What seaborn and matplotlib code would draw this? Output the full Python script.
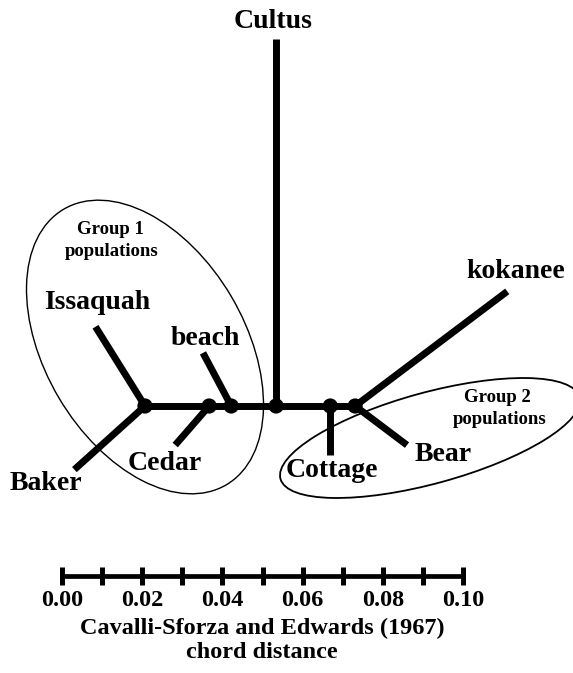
import matplotlib
matplotlib.use('Agg')
import matplotlib.pyplot as plt
from matplotlib.patches import Ellipse
import seaborn as sns
import pandas as pd
import numpy as np

# backbone of the unrooted tree: internal nodes left to right and the chord distance between them
backbone_nodes = ['A', 'B', 'C', 'D', 'E', 'F']
backbone_lengths = [0.0160, 0.0055, 0.0112, 0.0135, 0.0062]

# terminal branches: parent node, branch length, drawing angle (degrees)
leaf_names = ['Issaquah', 'Baker', 'Cedar', 'beach', 'Cultus', 'Cottage', 'kokanee', 'Bear']
leaf_parents = ['A', 'A', 'B', 'C', 'D', 'E', 'F', 'F']
leaf_lengths = [0.0233, 0.0237, 0.0129, 0.0150, 0.0915, 0.0122, 0.0475, 0.0162]
leaf_angles = [122, 222, 229, 118, 90, 270, 37, 323]

# scale bar
scale_ticks = [0.00, 0.01, 0.02, 0.03, 0.04, 0.05, 0.06, 0.07, 0.08, 0.09, 0.10]
scale_labels = ['0.00', '0.02', '0.04', '0.06', '0.08', '0.10']
scale_label_pos = [0.00, 0.02, 0.04, 0.06, 0.08, 0.10]

# layout (pixels of the 573x673 canvas)
PX = 4010.0          # pixels per unit of chord distance
X0, Y0 = 62, 406     # pixel of distance 0 on the scale bar / y of the backbone
W, H = 573, 673


def px(x, y):
    """pixel position -> data coordinates"""
    return (x - X0) / PX, (Y0 - y) / PX


# label offsets from each branch tip, in pixels (right, down)
label_offsets = {'Issaquah': (2, -24), 'Baker': (-28, 14), 'Cedar': (-10, 18),
                 'beach': (2, -14), 'Cultus': (-3, -18), 'Cottage': (2, 16),
                 'kokanee': (8, -20), 'Bear': (36, 9)}

sns.set_theme(style='white')
plt.rcParams['font.family'] = ['Liberation Serif', 'DejaVu Serif']
plt.rcParams['font.weight'] = 'bold'
plt.rcParams['text.color'] = 'black'

# node coordinates
start_x, _ = px(145, Y0)
node_x = np.concatenate([[start_x], start_x + np.cumsum(backbone_lengths)])
nodes = pd.DataFrame({'node': backbone_nodes, 'x': node_x, 'y': 0.0})
node_pos = {n: (x, 0.0) for n, x in zip(backbone_nodes, node_x)}

rows = []
rows.append(('backbone', node_x[0], 0.0))
rows.append(('backbone', node_x[-1], 0.0))
tips = {}
for name, parent, length, ang in zip(leaf_names, leaf_parents, leaf_lengths, leaf_angles):
    x0, y0 = node_pos[parent]
    a = np.deg2rad(ang)
    x1, y1 = x0 + length * np.cos(a), y0 + length * np.sin(a)
    tips[name] = (x1, y1)
    rows.append((name, x0, y0))
    rows.append((name, x1, y1))
edges = pd.DataFrame(rows, columns=['seg', 'x', 'y'])

fig = plt.figure(figsize=(W / 100, H / 100), dpi=100)
ax = fig.add_axes([0, 0, 1, 1])

sns.lineplot(data=edges, x='x', y='y', units='seg', estimator=None, sort=False,
             color='black', lw=5.0, solid_capstyle='butt', legend=False, ax=ax)
sns.scatterplot(data=nodes, x='x', y='y', s=120, color='black', edgecolor='none',
                zorder=3, legend=False, ax=ax)

for name in leaf_names:
    tx, ty = tips[name]
    dx, dy = label_offsets[name]
    ax.text(tx + dx / PX, ty - dy / PX, name, fontsize=20, fontweight='bold',
            ha='center', va='center')

# group ellipses
ax.add_patch(Ellipse(px(145, 347), width=200 / PX, height=320 / PX, angle=30.6,
                     fill=False, ec='black', lw=1.0))
ax.add_patch(Ellipse(px(430, 438), width=310 / PX, height=91 / PX, angle=15.3,
                     fill=False, ec='black', lw=1.3))
ax.text(*px(110, 230), 'Group 1', fontsize=13.5, fontweight='bold', ha='center', va='center')
ax.text(*px(112, 252), 'populations', fontsize=13.5, fontweight='bold', ha='center', va='center')
ax.text(*px(497, 397), 'Group 2', fontsize=13.5, fontweight='bold', ha='center', va='center')
ax.text(*px(500, 420), 'populations', fontsize=13.5, fontweight='bold', ha='center', va='center')

# scale bar
bar_y = px(0, 576)[1]
tick_h = 9 / PX
ax.plot([scale_ticks[0], scale_ticks[-1]], [bar_y, bar_y], color='black', lw=3.4,
        solid_capstyle='butt')
ax.vlines(scale_ticks, bar_y - tick_h, bar_y + tick_h, color='black', lw=3.6)
label_y = px(0, 601)[1]
for pos, lab in zip(scale_label_pos, scale_labels):
    ax.text(pos, label_y, lab, fontsize=17.5, fontweight='bold', ha='center', va='center')
ax.text(*px(262, 628), 'Cavalli-Sforza and Edwards (1967)', fontsize=17.5,
        fontweight='bold', ha='center', va='center')
ax.text(*px(262, 653), 'chord distance', fontsize=17.5, fontweight='bold',
        ha='center', va='center')

xmin, ymax = px(0, 0)
xmax, ymin = px(W, H)
ax.set_xlim(xmin, xmax)
ax.set_ylim(ymin, ymax)
ax.axis('off')

fig.savefig('out.png', dpi=100, facecolor='white')
